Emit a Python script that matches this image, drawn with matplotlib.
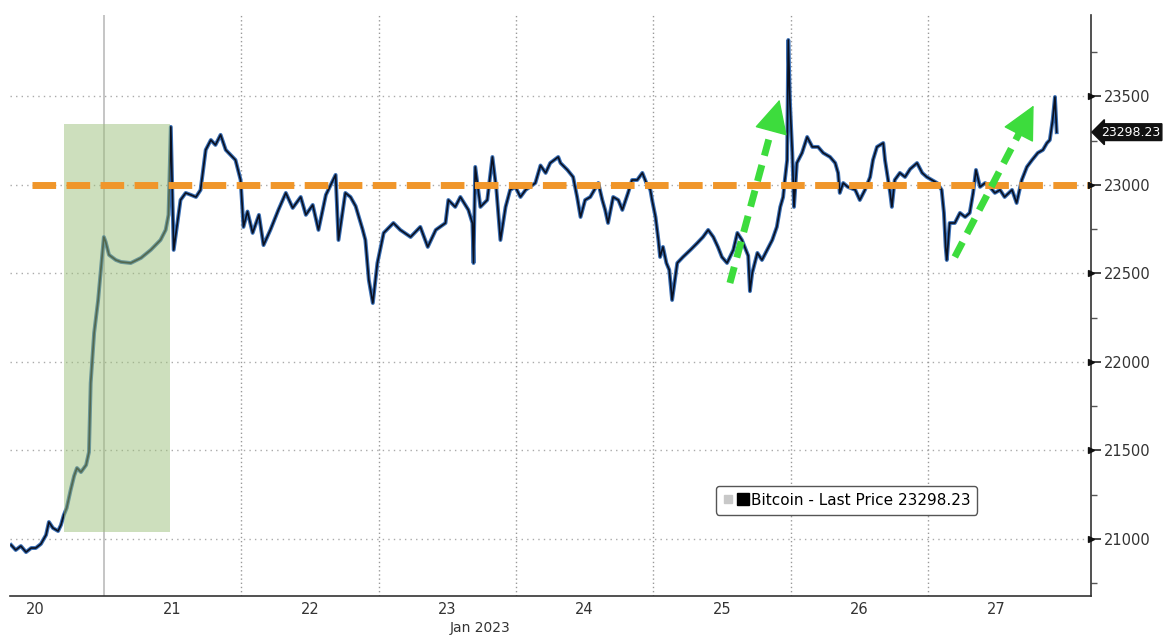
import numpy as np
import matplotlib.pyplot as plt
from matplotlib.lines import Line2D
from matplotlib.legend_handler import HandlerTuple
from matplotlib.patches import Rectangle

# hours since Jan 20 2023 00:00
hours = [7.8, 8.6, 9.5, 10.4, 11.3, 12.1, 13.0, 13.9, 14.4, 15.1, 16.0, 16.5, 17.0, 17.5,
         18.2, 18.8, 19.3, 20.0, 20.9, 21.4, 21.7, 22.3, 23.0, 24.0, 24.3, 24.9, 26.1, 27.0,
         28.7, 30.5, 32.2, 33.9, 34.8, 35.3, 35.7, 36.2, 37.4, 38.3, 39.2, 40.1, 40.9, 41.8,
         42.7, 43.5, 44.4, 45.3, 47.0, 47.9, 48.4, 49.1, 50.0, 51.1, 51.9, 53.1, 54.5, 55.8,
         57.0, 58.4, 59.3, 60.5, 61.5, 62.8, 64.5, 65.0, 66.2, 67.1, 68.0, 69.2, 69.7, 70.3,
         71.0, 71.8, 72.9, 74.6, 75.8, 77.6, 79.3, 80.6, 82.0, 83.7, 84.2, 85.4, 86.3, 87.7,
         88.4, 88.6, 88.9, 89.8, 91.0, 91.9, 92.6, 93.3, 94.2, 95.0, 95.9, 96.8, 97.7, 99.4,
         100.3, 101.2, 102.0, 103.4, 103.8, 105.0, 106.0, 106.7, 107.3, 108.1, 109.0, 110.4,
         111.1, 111.6, 112.1, 113.0, 113.9, 114.6, 115.6, 116.3, 117.2, 118.1, 118.8, 119.5,
         119.8, 120.4, 120.9, 121.2, 121.7, 122.3, 122.8, 123.3, 124.2, 125.2, 126.5, 127.7,
         128.7, 129.6, 130.5, 131.3, 132.0, 132.9, 134.0, 134.7, 135.5, 136.6, 136.9, 137.3,
         138.2, 139.0, 139.9, 140.8, 141.6, 142.2, 142.7, 143.0, 143.4, 143.6, 143.9, 144.3,
         144.6, 145.1, 146.0, 146.9, 147.8, 148.8, 149.7, 150.9, 151.8, 152.3, 152.6, 153.2,
         154.0, 155.3, 156.1, 157.0, 157.9, 158.4, 159.1, 160.2, 160.5, 161.4, 161.7, 162.2,
         163.1, 164.0, 164.9, 166.1, 167.0, 167.8, 168.7, 169.6, 170.4, 170.8, 171.1, 171.3,
         171.8, 172.7, 173.6, 174.5, 175.3, 175.9, 176.4, 177.1, 178.0, 178.8, 179.7, 180.6,
         181.4, 182.7, 183.5, 184.4, 185.3, 186.2, 187.2, 188.1, 188.8, 189.3, 189.8, 190.2,
         190.5]
price = [20966, 20938, 20960, 20926, 20949, 20949, 20972, 21023, 21096, 21062, 21045, 21079, 21135, 21175,
         21277, 21356, 21401, 21378, 21418, 21491, 21881, 22164, 22350, 22706, 22680, 22605, 22576, 22565,
         22559, 22588, 22633, 22689, 22746, 22831, 23328, 22633, 22915, 22955, 22944, 22932, 22972, 23198,
         23254, 23226, 23283, 23198, 23141, 23028, 22763, 22850, 22729, 22831, 22660, 22746, 22859, 22955,
         22870, 22932, 22831, 22887, 22746, 22944, 23057, 22689, 22955, 22932, 22880, 22750, 22689, 22463,
         22333, 22559, 22729, 22785, 22746, 22706, 22763, 22650, 22746, 22785, 22915, 22876, 22932, 22859,
         22785, 22559, 23102, 22876, 22915, 23158, 22972, 22689, 22876, 22972, 22989, 22932, 22972, 23011,
         23110, 23068, 23124, 23158, 23124, 23085, 23045, 22932, 22819, 22915, 22932, 23011,
         22915, 22859, 22785, 22932, 22915, 22859, 22955, 23028, 23028, 23068, 23011, 22972,
         22915, 22819, 22689, 22593, 22650, 22559, 22520, 22350, 22559, 22593, 22633, 22672,
         22706, 22746, 22706, 22650, 22593, 22559, 22633, 22729, 22689, 22600, 22400, 22503,
         22616, 22576, 22633, 22689, 22763, 22876, 22932, 23028, 23141, 23819, 23463, 23181,
         22876, 23124, 23181, 23271, 23215, 23215, 23181, 23158, 23124, 23068, 22955, 23011,
         22989, 22972, 22915, 22972, 23045, 23141, 23215, 23237, 23141, 22955, 22876, 23028,
         23068, 23045, 23090, 23124, 23068, 23045, 23028, 23011, 22972, 22842, 22650, 22576,
         22785, 22785, 22842, 22819, 22842, 22955, 23085, 22989, 23011, 22989, 22955, 22972,
         22932, 22972, 22898, 23028, 23102, 23141, 23181, 23198, 23237, 23254, 23367, 23497,
         23298]

day_labels = ['20', '21', '22', '23', '24', '25', '26', '27']
day_label_pos = [12, 36, 60, 84, 108, 132, 156, 180]
day_lines = [48, 72, 96, 120, 144, 168]
y_major = [21000, 21500, 22000, 22500, 23000, 23500]
y_minor = [20750, 21250, 21750, 22250, 22750, 23250, 23750]
last_price = 23298.23
level = 23000

# highlight box and arrows (hours, price)
box_x = (17.0, 35.5)
box_y = (21040, 23345)
arrow1 = ((133.4, 22446), (142.2, 23497))
arrow2 = ((172.7, 22593), (186.7, 23463))

fig = plt.figure(figsize=(11.63, 6.36), dpi=100)
ax = fig.add_axes([0.0086, 0.0629, 0.9295, 0.9135])

ax.set_xlim(7.6, 196.5)
ax.set_ylim(20678, 23960)

# grid
for y in y_major:
    ax.axhline(y, color='#aaaaaa', lw=1.0, ls=(0, (1, 3)), zorder=1)
for x in day_lines:
    ax.axvline(x, color='#999999', lw=1.0, ls=(0, (1, 2)), zorder=1)
ax.axvline(24, color='#bbbbbb', lw=1.2, zorder=1)

# price line
ax.plot(hours, price, color='#3a6fb5', lw=2.8, zorder=3)
ax.plot(hours, price, color='#0a1020', lw=1.2, zorder=4)

# green box over the rally
ax.add_patch(Rectangle((box_x[0], box_y[0]), box_x[1] - box_x[0], box_y[1] - box_y[0],
                       facecolor='#9dc07c', alpha=0.5, edgecolor='none', zorder=5))

# orange level line
ax.hlines(level, 11.5, 196.5, color='#f0962a', lw=5, linestyles=(0, (3.4, 1.5)), zorder=6)

# green arrows
for (x0, y0), (x1, y1) in [arrow1, arrow2]:
    xm = x0 + (x1 - x0) * 0.86
    ym = y0 + (y1 - y0) * 0.86
    ax.plot([x0, xm], [y0, ym], color='#3ddc3d', lw=5, ls=(0, (2.4, 1.4)),
            solid_capstyle='butt', zorder=7)
    ax.annotate('', xy=(x1, y1), xytext=(xm - (x1 - x0) * 0.02, ym - (y1 - y0) * 0.02),
                arrowprops=dict(arrowstyle='-|>,head_length=1.1,head_width=0.55',
                                color='#3ddc3d', lw=1, mutation_scale=20), zorder=7)

# spines
for s in ['top', 'left']:
    ax.spines[s].set_visible(False)
ax.spines['bottom'].set_color('#333333')
ax.spines['right'].set_color('#333333')
ax.spines['bottom'].set_linewidth(1.2)
ax.spines['right'].set_linewidth(1.2)

# y axis on the right
ax.yaxis.tick_right()
ax.set_yticks(y_major)
ax.set_yticks(y_minor, minor=True)
ax.set_yticklabels([str(v) for v in y_major])
ax.tick_params(axis='y', which='major', length=7, width=1.2, color='#222222',
               labelsize=10.5, labelcolor='#333333', pad=2)
ax.tick_params(axis='y', which='minor', length=4, width=1, color='#555555')
ax.plot([1.0] * len(y_major), y_major, marker='>', ms=5, color='#111111', ls='none',
        transform=ax.get_yaxis_transform(), clip_on=False, zorder=8)

# x axis
ax.set_xticks(day_label_pos)
ax.set_xticklabels(day_labels)
ax.tick_params(axis='x', length=0, labelsize=10.5, labelcolor='#333333', pad=4)
fig.text(480 / 1163, 1 - 628 / 636, 'Jan 2023', ha='center', va='center',
         fontsize=10, color='#333333')

# last price tag
ax.annotate(f'{last_price:.2f}', xy=(1.0, last_price), xycoords=ax.get_yaxis_transform(),
            xytext=(7, 0), textcoords='offset points', ha='left', va='center',
            fontsize=9, color='white',
            bbox=dict(boxstyle='larrow,pad=0.15', fc='#111111', ec='#111111'),
            annotation_clip=False)

# legend
gray_sq = Line2D([], [], marker='s', ls='none', color='#c8c8c8', ms=6)
black_sq = Line2D([], [], marker='s', ls='none', color='black', ms=9)
ax.legend(handles=[(gray_sq, black_sq)], labels=[f'Bitcoin - Last Price {last_price:.2f}'],
          handler_map={tuple: HandlerTuple(ndivide=None, pad=0.3)},
          loc='center', bbox_to_anchor=(0.774, 0.165), fontsize=11,
          frameon=True, fancybox=True, edgecolor='#555555', framealpha=1,
          handlelength=1.6, handletextpad=0.2, borderpad=0.45)

fig.savefig('out.png', dpi=100)
